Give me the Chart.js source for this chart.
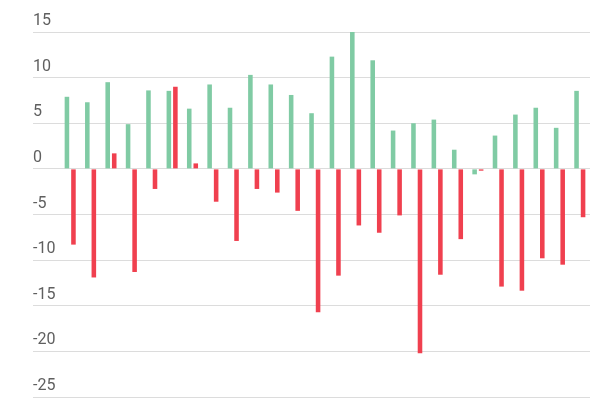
<!DOCTYPE html>
<html>
<head>
<meta charset="utf-8">
<script src="https://cdn.jsdelivr.net/npm/chart.js@4"></script>
<style>
    body { margin: 0; background: #fff; }
    #wrap { width: 600px; height: 400px; }
</style>
</head>
<body>
<div id="wrap"><canvas id="barChart"></canvas></div>
<script>
const labels = ['1', '2', '3', '4', '5', '6', '7', '8', '9', '10', '11', '12', '13',
    '14', '15', '16', '17', '18', '19', '20', '21', '22', '23', '24', '25', '26'];
const greenValues = [7.9, 7.3, 9.5, 4.9, 8.6, 8.55, 6.6, 9.25, 6.7, 10.3, 9.25, 8.1, 6.1,
    12.3, 15.0, 11.9, 4.2, 5.0, 5.4, 2.1, -0.6, 3.65, 5.95, 6.7, 4.5, 8.55];
const redValues = [-8.3, -11.9, 1.7, -11.3, -2.2, 9.0, 0.6, -3.6, -7.9, -2.2, -2.6, -4.6, -15.7,
    -11.7, -6.2, -7.0, -5.1, -20.2, -11.6, -7.7, -0.2, -12.9, -13.35, -9.8, -10.5, -5.3];
const yMin = -25;
const yMax = 15;

const ctx = document.getElementById('barChart').getContext('2d');
const myChart = new Chart(ctx, {
    type: 'bar',
    data: {
        labels: labels,
        datasets: [
            { label: 'A', data: greenValues, backgroundColor: '#80cba4' },
            { label: 'B', data: redValues, backgroundColor: '#f0404f' }
        ]
    },
    options: {
        responsive: true, maintainAspectRatio: false,
        animation: false,
        layout: { padding: { left: 33, right: 10, top: 32, bottom: 3 } },
        datasets: { bar: { categoryPercentage: 0.64, barPercentage: 0.7 } },
        scales: {
            x: { display: false },
            y: {
                min: yMin, max: yMax,
                afterFit: (scale) => {
                    scale.width = 27;
                    // labels sit above their lines, so no extra room needed
                    scale.paddingTop = 0;
                    scale.paddingBottom = 0;
                },
                border: { display: false },
                grid: { color: '#dcdcdc', lineWidth: 1, drawTicks: true, tickLength: 27 },
                ticks: {
                    stepSize: 5,
                    crossAlign: 'far',
                    labelOffset: -11,
                    color: '#5f5f5f',
                    font: { family: 'Roboto', size: 16 }
                }
            }
        },
        plugins: { legend: { display: false }, tooltip: { enabled: false } }
    }
});
</script>
</body>
</html>
